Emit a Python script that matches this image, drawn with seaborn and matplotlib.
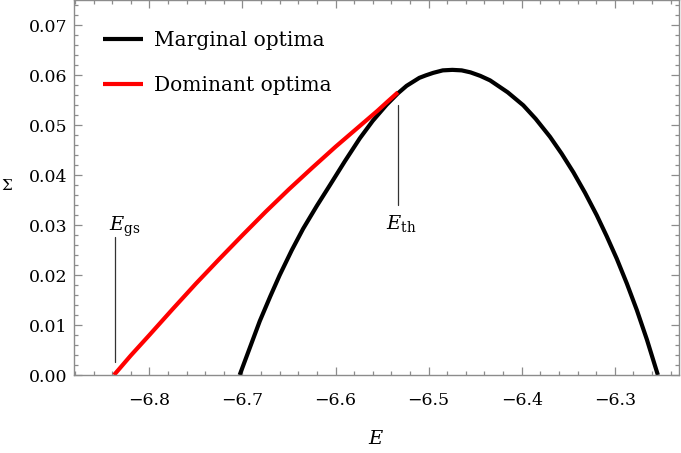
import numpy as np
import pandas as pd
import matplotlib
matplotlib.use("Agg")
import matplotlib.pyplot as plt
import seaborn as sns
from matplotlib.ticker import MultipleLocator

# --- data ---
E_marginal = [-6.703, -6.695, -6.6814, -6.67, -6.66, -6.647, -6.6348, -6.62, -6.6061,
              -6.59, -6.5739, -6.56, -6.5452, -6.533, -6.5237, -6.51, -6.503, -6.4951,
              -6.4848, -6.4745, -6.4645, -6.455, -6.4445, -6.434, -6.415, -6.3983,
              -6.385, -6.3696, -6.357, -6.3445, -6.332, -6.3194, -6.3087, -6.2979,
              -6.287, -6.2763, -6.2655, -6.2537]
S_marginal = [0.0, 0.0040, 0.0108, 0.0158, 0.0200, 0.0250, 0.0293, 0.0339, 0.0380,
              0.0428, 0.0474, 0.0509, 0.0541, 0.0564, 0.0579, 0.0595, 0.0600, 0.0605,
              0.0610, 0.0611, 0.0610, 0.0606, 0.0599, 0.0590, 0.0566, 0.0540,
              0.0513, 0.0477, 0.0443, 0.0406, 0.0365, 0.0320, 0.0278, 0.0233,
              0.0183, 0.0130, 0.0071, 0.0]
E_dominant = [-6.838, -6.82, -6.80, -6.775, -6.75, -6.725, -6.70, -6.675, -6.65,
              -6.625, -6.60, -6.585, -6.57, -6.555, -6.545, -6.533]
S_dominant = [0.0, 0.0039, 0.0080, 0.0132, 0.0183, 0.0232, 0.0280, 0.0327, 0.0372,
              0.0415, 0.0457, 0.0481, 0.0505, 0.0529, 0.0546, 0.0566]
labels = ["Marginal optima", "Dominant optima"]
E_gs = -6.8373
E_th = -6.533
x_ticks = [-6.8, -6.7, -6.6, -6.5, -6.4, -6.3]
y_ticks = [0.00, 0.01, 0.02, 0.03, 0.04, 0.05, 0.06, 0.07]

df = pd.concat([
    pd.DataFrame({"E": E_marginal, "S": S_marginal, "kind": labels[0]}),
    pd.DataFrame({"E": E_dominant, "S": S_dominant, "kind": labels[1]}),
])

sns.set_theme(style="ticks")
plt.rcParams["font.family"] = ["DejaVu Serif"]
plt.rcParams["mathtext.fontset"] = "dejavuserif"
plt.rcParams["text.color"] = "black"
plt.rcParams["axes.labelcolor"] = "black"

fig = plt.figure(figsize=(6.81, 4.53), dpi=100)
ax = fig.add_axes([74/681, 1 - 375/453, (679 - 74)/681, 375/453 - 0.001])

sns.lineplot(data=df, x="E", y="S", hue="kind", hue_order=labels,
             palette={labels[0]: "black", labels[1]: "#ff0000"},
             linewidth=3.0, sort=False, estimator=None, ax=ax)
for ln in ax.get_lines():
    ln.set_solid_joinstyle("round")
    ln.set_solid_capstyle("butt")

ax.set_xlim(-6.881, -6.231)
ax.set_ylim(0, 0.075)
ax.set_xticks(x_ticks)
ax.set_yticks(y_ticks)
ax.set_xticklabels([f"{v:.1f}".replace("-", "\u2212") for v in x_ticks])
ax.set_yticklabels([f"{v:.2f}" for v in y_ticks])
ax.xaxis.set_minor_locator(MultipleLocator(0.02))
ax.yaxis.set_minor_locator(MultipleLocator(0.002))

gray = "#8c8c8c"
for s in ax.spines.values():
    s.set_color(gray)
    s.set_linewidth(1.0)
    s.set_visible(True)
ax.tick_params(which="both", direction="in", top=True, right=True, color=gray, width=0.9,
               labelsize=12.5, labelcolor="black")
ax.tick_params(axis="x", which="major", length=5.5, pad=12)
ax.tick_params(axis="y", which="major", length=5.5, pad=5)
ax.tick_params(which="minor", length=3)

ax.set_xlabel("$E$", fontsize=14, labelpad=15)
ax.set_ylabel("Σ", fontsize=11, rotation=0, labelpad=0)
ax.yaxis.set_label_coords(-0.111, 0.485)

# threshold markers
ax.plot([E_gs, E_gs], [0.0026, 0.0276], color="#333333", lw=0.9)
ax.plot([E_th, E_th], [0.034, 0.054], color="#333333", lw=0.9)
ax.text(E_gs - 0.006, 0.0296, r"$E_{\mathrm{gs}}$", fontsize=14, ha="left", va="center")
ax.text(E_th + 0.003, 0.0303, r"$E_{\mathrm{th}}$", fontsize=14, ha="center", va="center")

leg = ax.legend(frameon=False, loc="upper left", bbox_to_anchor=(0.048, 0.919),
                borderaxespad=0, borderpad=0, handlelength=2.0, handletextpad=0.55,
                labelspacing=1.3, fontsize=14.5)
for h in leg.get_lines():
    h.set_linewidth(3.0)
for t in leg.get_texts():
    t.set_color("black")

fig.savefig("out.png", dpi=100)
